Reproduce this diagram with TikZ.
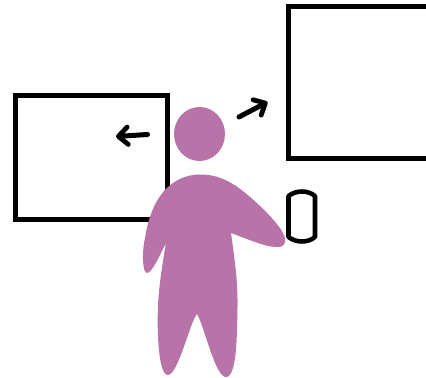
\documentclass[tikz,border=0pt]{standalone}
\usetikzlibrary{arrows.meta}
\definecolor{figColor}{rgb}{0.722,0.455,0.659}
\begin{document}
\begin{tikzpicture}
% Figure looking at two screens, phone in hand
\def\pxsz{0.75pt}
\providecommand{\frameLineWidth}{3.75pt}
\tikzset{
  screenframe/.style={draw=black, line width=\frameLineWidth, line join=miter},
  phoneframe/.style={draw=black, line width=3.4pt, line join=round},
  lookarrow/.style={draw=black, line width=3.75pt, line cap=round, -{Straight Barb[round, length=7pt, width=13pt, line width=3.6pt]}},
  figshape/.style={fill=figColor, draw=none}
}
\begin{scope}[x=\pxsz, y=-\pxsz]
  \useasboundingbox (0,0) rectangle (426,378);
  % Screens
  \draw[screenframe] (15,95.5) rectangle (167.5,219.5);
  \draw[screenframe] (440,7) -- (288,7) -- (288,158.5) -- (440,158.5);
  % Phone
  \draw[phoneframe] (288.5,196) .. controls (296,190) and (308,190) .. (315,196)
    -- (315,237) .. controls (308,243) and (296,243) .. (288.5,237) -- cycle;
  % Gaze arrows
  \coordinate (leftstart) at (147.5,134.5);
  \coordinate (lefttip) at (116,136.5);
  \coordinate (rightstart) at (239,117);
  \coordinate (righttip) at (267.5,102);
  \draw[lookarrow] (leftstart) -- (lefttip);
  \draw[lookarrow] (rightstart) -- (righttip);
  % Head
  \fill[figshape] (199.5,134) ellipse [x radius=25.5, y radius=27];
  % Body
  \fill[figshape] (198,174.5)
    .. controls (212,174) and (224,178) .. (236,186)
    .. controls (252,197) and (277,221) .. (283,233)
    .. controls (286,239) and (287,246) .. (279,247)
    .. controls (268,248) and (250,240) .. (231,233)
    .. controls (234,255) and (238,280) .. (237.5,307)
    .. controls (237,335) and (237,377) .. (226,377)
    .. controls (215,377) and (204,325) .. (197,314)
    .. controls (190,322) and (178,375) .. (168,375)
    .. controls (158,375) and (157,330) .. (158,305)
    .. controls (159,285) and (163,260) .. (166,243)
    .. controls (160,255) and (152,273) .. (147,273)
    .. controls (142,273) and (142,250) .. (145,238)
    .. controls (148,220) and (153,204) .. (164,191)
    .. controls (174,180) and (186,175) .. (198,174.5) -- cycle;
\end{scope}
\end{tikzpicture}
\end{document}
